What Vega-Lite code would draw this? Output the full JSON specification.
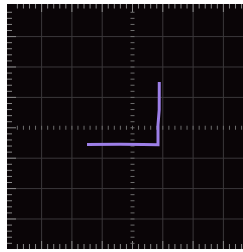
{
  "$schema": "https://vega.github.io/schema/vega-lite/v6.json",
  "width": 236,
  "height": 245,
  "autosize": "none",
  "padding": {"left": 7, "top": 4, "right": 0, "bottom": 3},
  "background": "white",
  "config": {"view": {"fill": "#0a0507", "stroke": null}},
  "datasets": {
    "gridx": [{"g": -3}, {"g": -2}, {"g": -1}, {"g": 1}, {"g": 2}, {"g": 3}],
    "gridy": [{"g": -3}, {"g": -2}, {"g": -1}, {"g": 1}, {"g": 2}, {"g": 3}],
    "minor": [{"t": -3.8}, {"t": -3.6}, {"t": -3.4}, {"t": -3.2}, {"t": -2.8}, {"t": -2.6}, {"t": -2.4}, {"t": -2.2}, {"t": -1.8}, {"t": -1.6}, {"t": -1.4}, {"t": -1.2}, {"t": -0.8}, {"t": -0.6}, {"t": -0.4}, {"t": -0.2}, {"t": 0.2}, {"t": 0.4}, {"t": 0.6}, {"t": 0.8}, {"t": 1.2}, {"t": 1.4}, {"t": 1.6}, {"t": 1.8}, {"t": 2.2}, {"t": 2.4}, {"t": 2.6}, {"t": 2.8}, {"t": 3.2}, {"t": 3.4}, {"t": 3.6}, {"t": 3.8}],
    "major": [{"t": -3}, {"t": -2}, {"t": -1}, {"t": 0}, {"t": 1}, {"t": 2}, {"t": 3}],
    "trace": [
      {"i": 0, "x": -1.502, "y": -0.549},
      {"i": 1, "x": -0.41, "y": -0.543},
      {"i": 2, "x": 0.35, "y": -0.55},
      {"i": 3, "x": 0.842, "y": -0.556},
      {"i": 4, "x": 0.842, "y": 0.092},
      {"i": 5, "x": 0.881, "y": 0.586},
      {"i": 6, "x": 0.884, "y": 1.507}
    ]
  },
  "layer": [
    {
      "data": {"name": "gridx"},
      "mark": {"type": "rule", "color": "#3b383b", "strokeWidth": 1},
      "encoding": {"x": {"field": "g", "type": "quantitative", "scale": {"domain": [-4.142, 3.647], "nice": false, "zero": false}, "axis": null}}
    },
    {
      "data": {"name": "gridy"},
      "mark": {"type": "rule", "color": "#3b383b", "strokeWidth": 1},
      "encoding": {"y": {"field": "g", "type": "quantitative", "scale": {"domain": [-3.987, 4.072], "nice": false, "zero": false}, "axis": null}}
    },
    {
      "data": {"name": "minor"},
      "mark": {"type": "tick", "orient": "vertical", "color": "#8a8a8a", "size": 9, "thickness": 1, "clip": true, "opacity": 1},
      "encoding": {
        "x": {"field": "t", "type": "quantitative", "scale": {"domain": [-4.142, 3.647], "nice": false, "zero": false}, "axis": null},
        "y": {"datum": 4.072, "type": "quantitative", "scale": {"domain": [-3.987, 4.072], "nice": false, "zero": false}, "axis": null}
      }
    },
    {
      "data": {"name": "minor"},
      "mark": {"type": "tick", "orient": "vertical", "color": "#8a8a8a", "size": 10, "thickness": 1, "clip": true, "opacity": 1},
      "encoding": {
        "x": {"field": "t", "type": "quantitative", "scale": {"domain": [-4.142, 3.647], "nice": false, "zero": false}, "axis": null},
        "y": {"datum": -3.987, "type": "quantitative", "scale": {"domain": [-3.987, 4.072], "nice": false, "zero": false}, "axis": null}
      }
    },
    {
      "data": {"name": "minor"},
      "mark": {"type": "tick", "orient": "horizontal", "color": "#8a8a8a", "size": 10, "thickness": 1, "clip": true, "opacity": 1},
      "encoding": {
        "y": {"field": "t", "type": "quantitative", "scale": {"domain": [-3.987, 4.072], "nice": false, "zero": false}, "axis": null},
        "x": {"datum": -4.142, "type": "quantitative", "scale": {"domain": [-4.142, 3.647], "nice": false, "zero": false}, "axis": null}
      }
    },
    {
      "data": {"name": "major"},
      "mark": {"type": "tick", "orient": "vertical", "color": "#8a8a8a", "size": 16, "thickness": 1, "clip": true, "opacity": 1},
      "encoding": {
        "x": {"field": "t", "type": "quantitative", "scale": {"domain": [-4.142, 3.647], "nice": false, "zero": false}, "axis": null},
        "y": {"datum": 4.072, "type": "quantitative", "scale": {"domain": [-3.987, 4.072], "nice": false, "zero": false}, "axis": null}
      }
    },
    {
      "data": {"name": "major"},
      "mark": {"type": "tick", "orient": "vertical", "color": "#8a8a8a", "size": 16, "thickness": 1, "clip": true, "opacity": 1},
      "encoding": {
        "x": {"field": "t", "type": "quantitative", "scale": {"domain": [-4.142, 3.647], "nice": false, "zero": false}, "axis": null},
        "y": {"datum": -3.987, "type": "quantitative", "scale": {"domain": [-3.987, 4.072], "nice": false, "zero": false}, "axis": null}
      }
    },
    {
      "data": {"name": "major"},
      "mark": {"type": "tick", "orient": "horizontal", "color": "#8a8a8a", "size": 18, "thickness": 1, "clip": true, "opacity": 1},
      "encoding": {
        "y": {"field": "t", "type": "quantitative", "scale": {"domain": [-3.987, 4.072], "nice": false, "zero": false}, "axis": null},
        "x": {"datum": -4.142, "type": "quantitative", "scale": {"domain": [-4.142, 3.647], "nice": false, "zero": false}, "axis": null}
      }
    },
    {
      "data": {"name": "minor"},
      "mark": {"type": "tick", "orient": "vertical", "color": "#6e6e6e", "size": 4, "thickness": 1, "opacity": 1},
      "encoding": {
        "x": {"field": "t", "type": "quantitative", "scale": {"domain": [-4.142, 3.647], "nice": false, "zero": false}, "axis": null},
        "y": {"datum": 0, "type": "quantitative", "scale": {"domain": [-3.987, 4.072], "nice": false, "zero": false}, "axis": null}
      }
    },
    {
      "data": {"name": "minor"},
      "mark": {"type": "tick", "orient": "horizontal", "color": "#6e6e6e", "size": 4, "thickness": 1, "opacity": 1},
      "encoding": {
        "y": {"field": "t", "type": "quantitative", "scale": {"domain": [-3.987, 4.072], "nice": false, "zero": false}, "axis": null},
        "x": {"datum": 0, "type": "quantitative", "scale": {"domain": [-4.142, 3.647], "nice": false, "zero": false}, "axis": null}
      }
    },
    {
      "data": {"name": "major"},
      "mark": {"type": "tick", "orient": "vertical", "color": "#6e6e6e", "size": 4, "thickness": 1, "opacity": 1},
      "encoding": {
        "x": {"field": "t", "type": "quantitative", "scale": {"domain": [-4.142, 3.647], "nice": false, "zero": false}, "axis": null},
        "y": {"datum": 0, "type": "quantitative", "scale": {"domain": [-3.987, 4.072], "nice": false, "zero": false}, "axis": null}
      }
    },
    {
      "data": {"name": "major"},
      "mark": {"type": "tick", "orient": "horizontal", "color": "#6e6e6e", "size": 4, "thickness": 1, "opacity": 1},
      "encoding": {
        "y": {"field": "t", "type": "quantitative", "scale": {"domain": [-3.987, 4.072], "nice": false, "zero": false}, "axis": null},
        "x": {"datum": 0, "type": "quantitative", "scale": {"domain": [-4.142, 3.647], "nice": false, "zero": false}, "axis": null}
      }
    },
    {
      "mark": {"type": "rule", "color": "#8c8c8c", "strokeWidth": 2},
      "encoding": {"x": {"datum": -4.142, "type": "quantitative", "scale": {"domain": [-4.142, 3.647], "nice": false, "zero": false}, "axis": null}}
    },
    {
      "mark": {"type": "rule", "color": "#8c8c8c", "strokeWidth": 2},
      "encoding": {"y": {"datum": 4.072, "type": "quantitative", "scale": {"domain": [-3.987, 4.072], "nice": false, "zero": false}, "axis": null}}
    },
    {
      "mark": {"type": "rule", "color": "#8c8c8c", "strokeWidth": 2},
      "encoding": {"y": {"datum": -3.987, "type": "quantitative", "scale": {"domain": [-3.987, 4.072], "nice": false, "zero": false}, "axis": null}}
    },
    {
      "data": {"name": "trace"},
      "mark": {"type": "line", "color": "#9d7fe8", "strokeWidth": 3, "strokeJoin": "miter", "strokeCap": "butt"},
      "encoding": {
        "x": {"field": "x", "type": "quantitative", "scale": {"domain": [-4.142, 3.647], "nice": false, "zero": false}, "axis": null},
        "y": {"field": "y", "type": "quantitative", "scale": {"domain": [-3.987, 4.072], "nice": false, "zero": false}, "axis": null},
        "order": {"field": "i", "type": "quantitative"}
      }
    }
  ]
}
